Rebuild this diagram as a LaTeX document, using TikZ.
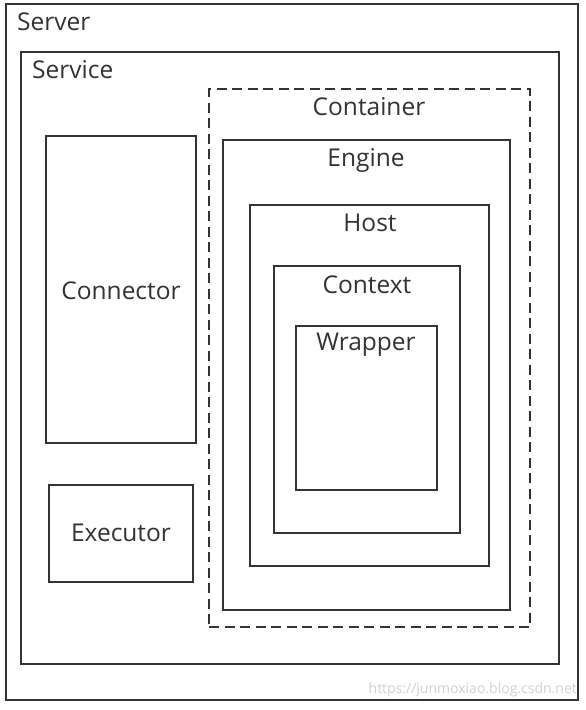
\documentclass[tikz,border=0pt]{standalone}
\usepackage{fontspec}
\setmainfont{Open Sans}
\begin{document}
\begin{tikzpicture}[x=1pt,y=-1pt,
  box/.style={draw=black!80, line width=2pt, rectangle, inner sep=0pt, outer sep=0pt},
  dbox/.style={box, dashed, dash pattern=on 10pt off 5.5pt},
  lbl/.style={font=\fontsize{24.5}{28}\selectfont, text=black!80, inner sep=0pt},
  wm/.style={font=\fontsize{14}{16}\selectfont, text=black!18, inner sep=0pt}]
\useasboundingbox (0,0) rectangle (586,710);
\fill[white] (0,0) rectangle (586,710);
\node[box, minimum width=572pt, minimum height=696pt] (server) at (292,352) {};
\node[box, minimum width=538pt, minimum height=612pt] (service) at (290,358) {};
\node[dbox, minimum width=321pt, minimum height=538pt] (container) at (369.5,358) {};
\node[box, minimum width=287pt, minimum height=470pt] (engine) at (366.5,375) {};
\node[box, minimum width=239pt, minimum height=361pt] (host) at (369.5,385.5) {};
\node[box, minimum width=186pt, minimum height=267pt] (context) at (367,399.5) {};
\node[box, minimum width=141pt, minimum height=164pt] (wrapper) at (366.5,408) {};
\node[box, minimum width=150pt, minimum height=307pt] (connector) at (121,289.5) {};
\node[box, minimum width=144pt, minimum height=97pt] (executor) at (121,533.5) {};
\node[lbl, anchor=west] (lserver) at (17,22) {Server};
\node[lbl, anchor=west] (lservice) at (32,70) {Service};
\node[lbl] (lcontainer) at (369,107) {Container};
\node[lbl] (lengine) at (366,160) {Engine};
\node[lbl] (lhost) at (370,223) {Host};
\node[lbl] (lcontext) at (367,285) {Context};
\node[lbl] (lwrapper) at (366,345) {Wrapper};
\node[lbl] (lconnector) at (121,291) {Connector};
\node[lbl] (lexecutor) at (121,533) {Executor};
\node[wm, anchor=east] (wmark) at (577,690) {https://junmoxiao.blog.csdn.net};
\end{tikzpicture}
\end{document}
